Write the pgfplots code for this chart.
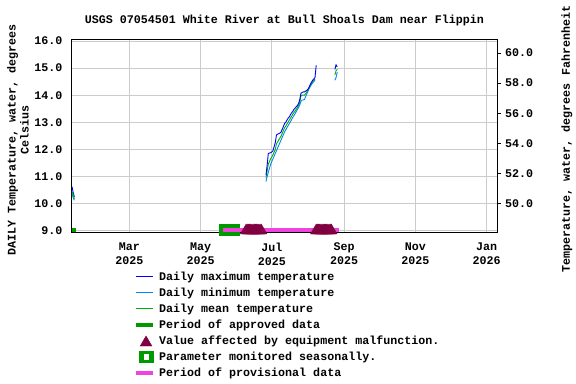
\documentclass[border=0pt]{standalone}
\usepackage{pgfplots}
\pgfplotsset{compat=1.18}
\usepackage{fontspec}
\setmainfont{Liberation Mono}
\newcommand\f{\fontsize{11.67bp}{14bp}\selectfont\bfseries}
\definecolor{maxblue}{RGB}{0,0,255}
\definecolor{minblue}{RGB}{0,136,240}
\definecolor{meangreen}{RGB}{0,175,0}
\definecolor{appgreen}{RGB}{0,153,0}
\definecolor{maroonx}{RGB}{128,0,64}
\definecolor{provmag}{RGB}{238,68,221}
\definecolor{gridgray}{RGB}{204,204,204}
\begin{document}
\begin{tikzpicture}
\useasboundingbox (-71.7bp,-151.5bp) rectangle (504.3bp,232.5bp);
\begin{axis}[
  scale only axis, width=425.3bp, height=193bp,
  xmin=9.7, xmax=373.8, ymin=8.93, ymax=16.055,
  axis line style={black, line width=1bp},
  grid=major, grid style={color=gridgray, line width=0.9bp},
  xtick={59,120,181,243,304,365},
  xticklabels={Mar\\2025,May\\2025,Jul\\2025,Sep\\2025,Nov\\2025,Jan\\2026},
  xticklabel style={align=center, font=\f, inner sep=0pt, anchor=north, yshift=-10bp},
  ytick={9,10,11,12,13,14,15,16},
  yticklabels={9.0,10.0,11.0,12.0,13.0,14.0,15.0,16.0},
  yticklabel style={font=\f, inner sep=0pt, anchor=east, xshift=-9bp},
  major tick length=0pt,
  clip=false,
  legend style={at={(axis description cs:0.1512,-0.2057)}, anchor=north west,
    draw=none, fill=none, font=\f, inner sep=0pt, row sep=5bp,
    nodes={inner sep=0pt, text height=8.5bp, text depth=2.5bp},
    /tikz/every odd column/.append style={column sep=6bp}},
  legend cell align=left,
]
% early data
\addplot[maxblue, line width=0.9bp, forget plot] coordinates {(10,10.62) (11,10.40) (12,10.25)};
\addplot[minblue, line width=0.9bp, forget plot] coordinates {(10,10.35) (11,10.22) (12,10.12)};
\addplot[meangreen, line width=0.9bp, forget plot] coordinates {(10,10.45) (11,10.30) (12,10.18)};
% main data
\addplot[minblue, line width=0.9bp, forget plot] coordinates {
(176,10.81) (177,11.00) (178,11.15) (179,11.30) (180,11.45) (181,11.55) (182,11.65) (183,11.75)
(184,11.85) (185,11.95) (186,12.05) (187,12.15) (188,12.25) (189,12.35) (190,12.45) (191,12.55)
(192,12.65) (193,12.72) (194,12.80) (195,12.88) (196,12.95) (197,13.02) (198,13.10) (199,13.18)
(200,13.25) (201,13.32) (202,13.40) (203,13.48) (204,13.55) (205,13.65) (206,13.78) (207,13.82)
(208,13.82) (209,13.84) (210,13.95) (211,14.05) (212,14.15) (213,14.25) (214,14.32) (215,14.40)
(216,14.45) (217,14.50) (218,14.56)};
\addplot[meangreen, line width=0.9bp, forget plot] coordinates {
(176,10.95) (177,11.20) (178,11.45) (179,11.55) (180,11.65) (181,11.72) (182,11.80) (183,11.90)
(184,12.00) (185,12.20) (186,12.28) (187,12.35) (188,12.42) (189,12.50) (190,12.60) (191,12.70)
(192,12.80) (193,12.86) (194,12.94) (195,13.00) (196,13.08) (197,13.15) (198,13.22) (199,13.30)
(200,13.36) (201,13.42) (202,13.48) (203,13.55) (204,13.62) (205,13.75) (206,13.98) (207,14.00)
(208,14.00) (209,14.00) (210,14.05) (211,14.12) (212,14.20) (213,14.28) (214,14.36) (215,14.44)
(216,14.50) (217,14.55) (218,14.60)};
\addplot[maxblue, line width=0.9bp, forget plot] coordinates {
(176,11.05) (177,11.40) (178,11.85) (179,11.86) (180,11.88) (181,11.90) (182,11.95) (183,12.10)
(184,12.25) (185,12.53) (186,12.56) (187,12.58) (188,12.60) (189,12.64) (190,12.75) (191,12.85)
(192,12.96) (193,13.00) (194,13.08) (195,13.15) (196,13.20) (197,13.28) (198,13.35) (199,13.40)
(200,13.48) (201,13.52) (202,13.58) (203,13.62) (204,13.70) (205,13.85) (206,14.07) (207,14.10)
(208,14.12) (209,14.12) (210,14.15) (211,14.18) (212,14.22) (213,14.30) (214,14.40) (215,14.48)
(216,14.55) (217,14.60) (218,14.65) (219,15.10)};
% late piece
\addplot[minblue, line width=0.9bp, forget plot] coordinates {(235,14.55) (236,14.65) (237,14.85)};
\addplot[meangreen, line width=0.9bp, forget plot] coordinates {(235,14.75) (236,14.90) (237,14.95)};
\addplot[maxblue, line width=0.9bp, forget plot] coordinates {(235,14.95) (236,15.12) (237,15.05)};
% approved periods
\addplot[fill=appgreen, draw=none, forget plot] coordinates {(9.7,8.96) (13.5,8.96) (13.5,9.10) (9.7,9.10)} -- cycle;
\addplot[fill=appgreen, draw=none, forget plot] coordinates {(135.8,8.80) (153.8,8.80) (153.8,9.25) (135.8,9.25)} -- cycle;
% equipment malfunction
\addplot[only marks, mark=triangle*, mark size=6.5bp, color=maroonx, forget plot] coordinates {
(159,9) (160,9) (161,9) (162,9) (163,9) (164,9) (165,9) (166,9) (167,9) (168,9) (169,9) (170,9) (171,9) (172,9)
(219,9) (220,9) (221,9) (222,9) (223,9) (224,9) (225,9) (226,9) (227,9) (228,9) (229,9) (230,9) (231,9) (232,9)};
% provisional
\addplot[provmag, line width=4bp, forget plot] coordinates {(139.5,9.03) (238.8,9.03)};
% legend
\addlegendimage{legend image code/.code={\path[draw=none,fill=none] (0bp,-5bp) rectangle (17bp,5bp); \draw[overlay, maxblue, line width=0.9bp] (0bp,1bp) -- (17bp,1bp);}}
\addlegendentry{Daily maximum temperature}
\addlegendimage{legend image code/.code={\path[draw=none,fill=none] (0bp,-5bp) rectangle (17bp,5bp); \draw[overlay, minblue, line width=0.9bp] (0bp,1bp) -- (17bp,1bp);}}
\addlegendentry{Daily minimum temperature}
\addlegendimage{legend image code/.code={\path[draw=none,fill=none] (0bp,-5bp) rectangle (17bp,5bp); \draw[overlay, meangreen, line width=0.9bp] (0bp,1bp) -- (17bp,1bp);}}
\addlegendentry{Daily mean temperature}
\addlegendimage{legend image code/.code={\path[draw=none,fill=none] (0bp,-5bp) rectangle (17bp,5bp); \draw[overlay, appgreen, line width=3.4bp] (0bp,1bp) -- (17bp,1bp);}}
\addlegendentry{Period of approved data}
\addlegendimage{legend image code/.code={\path[draw=none,fill=none] (0bp,-5bp) rectangle (17bp,5bp); \fill[overlay, maroonx] (4bp,-4.1bp) -- (15.7bp,-4.1bp) -- (11bp,4bp) -- (9.85bp,5.9bp) -- (8.7bp,4bp) -- cycle;}}
\addlegendentry{Value affected by equipment malfunction.}
\addlegendimage{legend image code/.code={\path[draw=none,fill=none] (0bp,-5bp) rectangle (17bp,5bp); \fill[overlay, appgreen] (3.3bp,-4.6bp) rectangle (16.7bp,6.3bp); \fill[overlay, white] (8.3bp,-1.6bp) rectangle (11.7bp,3.4bp);}}
\addlegendentry{Parameter monitored seasonally.}
\addlegendimage{legend image code/.code={\path[draw=none,fill=none] (0bp,-5bp) rectangle (17bp,5bp); \draw[overlay, provmag, line width=3.4bp] (0bp,1bp) -- (17bp,1bp);}}
\addlegendentry{Period of provisional data}
% texts
\node[font=\f, anchor=base] at (axis description cs:0.5,1.0803) {USGS 07054501 White River at Bull Shoals Dam near Flippin};
\node[font=\f, rotate=90, anchor=base] at (axis description cs:-0.1321,0.48) {DAILY Temperature, water, degrees};
\node[font=\f, rotate=90, anchor=base] at (axis description cs:-0.1010,0.53) {Celsius};
\node[font=\f, rotate=90, anchor=base] at (axis description cs:1.1716,0.4845) {Temperature, water, degrees Fahrenheit};
\end{axis}
\begin{axis}[
  scale only axis, width=425.3bp, height=193bp,
  xmin=9.7, xmax=373.8, ymin=48.074, ymax=60.899,
  axis x line=none, axis y line*=right,
  axis line style={black, line width=1bp},
  ytick={50,52,54,56,58,60},
  yticklabels={50.0,52.0,54.0,56.0,58.0,60.0},
  yticklabel style={font=\f, inner sep=0pt, anchor=west, xshift=4bp},
  tick align=outside, major tick length=4bp,
  tick style={black, line width=1bp},
]
\addplot[draw=none, forget plot] coordinates {(100,50) (200,60)};
\end{axis}
\end{tikzpicture}
\end{document}
